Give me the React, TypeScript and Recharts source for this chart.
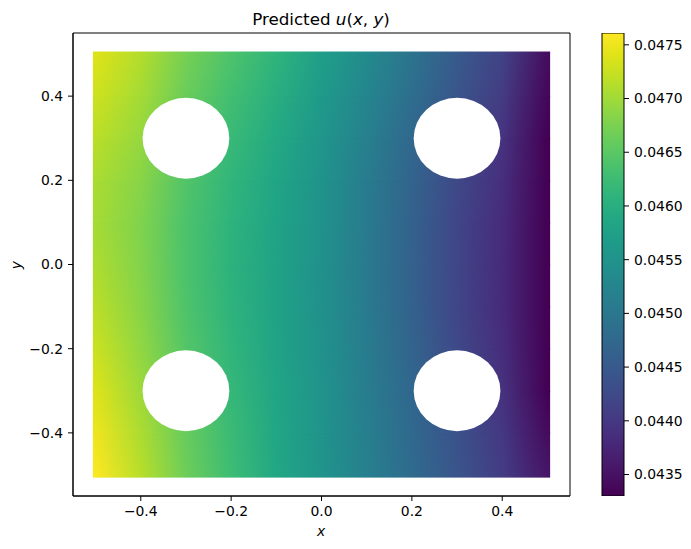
import {
  Bar,
  BarChart,
  ReferenceArea,
  Scatter,
  ScatterChart,
  XAxis,
  YAxis,
} from "recharts";

// figure geometry (pixels)
const W = 691;
const H = 549;
const PLOT = { left: 73, right: 570, top: 33, bottom: 496 };
const CBAR = { left: 602, right: 624 };
const Y_AXIS_W = 60;
const X_AXIS_H = 30;
const FONT = "'DejaVu Sans', Verdana, sans-serif";

// data
const DOMAIN: [number, number] = [-0.55, 0.55];
const FIELD_EDGE = 0.506;
const xTicks = [-0.4, -0.2, 0, 0.2, 0.4];
const yTicks = [-0.4, -0.2, 0, 0.2, 0.4];
const cbarTicks = [0.0435, 0.044, 0.0445, 0.045, 0.0455, 0.046, 0.0465, 0.047, 0.0475];
const U_MIN = 0.0433;
const U_MAX = 0.04761;

const xCols = [-0.5, -0.4, -0.3, -0.2, -0.1, 0, 0.1, 0.2, 0.3, 0.4, 0.5];
const yRows = [0.5, 0.4, 0.3, 0.2, 0.1, 0, -0.1, -0.2, -0.3, -0.4, -0.5];
// u(x, y), one row per entry of yRows, one value per entry of xCols
const uRows = [
  [0.0474, 0.04712, 0.04672, 0.0464, 0.0461, 0.04572, 0.04535, 0.04495, 0.04452, 0.04415, 0.04345],
  [0.04728, 0.04702, 0.04662, 0.0463, 0.046, 0.04563, 0.04525, 0.04485, 0.04442, 0.04405, 0.04337],
  [0.04716, 0.04693, 0.04652, 0.0462, 0.0459, 0.04555, 0.04516, 0.04475, 0.04432, 0.04395, 0.04328],
  [0.04706, 0.04684, 0.04643, 0.04612, 0.04583, 0.0455, 0.0451, 0.04468, 0.04424, 0.04388, 0.0432],
  [0.04703, 0.04679, 0.04638, 0.04608, 0.0458, 0.04547, 0.04507, 0.04465, 0.0442, 0.04384, 0.04314],
  [0.04708, 0.0468, 0.04638, 0.04607, 0.04578, 0.04546, 0.04506, 0.04464, 0.04419, 0.04382, 0.04312],
  [0.04716, 0.04684, 0.0464, 0.04608, 0.04578, 0.04546, 0.04507, 0.04465, 0.0442, 0.04383, 0.04314],
  [0.04726, 0.0469, 0.04645, 0.04612, 0.0458, 0.04547, 0.04509, 0.04468, 0.04424, 0.04387, 0.0432],
  [0.04738, 0.04698, 0.04652, 0.04617, 0.04583, 0.04549, 0.04512, 0.04472, 0.0443, 0.04393, 0.0433],
  [0.0475, 0.04707, 0.0466, 0.04622, 0.04585, 0.04551, 0.04515, 0.04476, 0.04437, 0.044, 0.04343],
  [0.0476, 0.04715, 0.04665, 0.04625, 0.04587, 0.04552, 0.04517, 0.0448, 0.04443, 0.04407, 0.04355],
];
const holes = [
  { x: -0.3, y: 0.3 },
  { x: 0.3, y: 0.3 },
  { x: -0.3, y: -0.3 },
  { x: 0.3, y: -0.3 },
];
const HOLE_R = 0.096;
const colorbar = [{ name: "u", range: [U_MIN, U_MAX] }];

const VIRIDIS = [
  "#440154", "#471365", "#482475", "#463480", "#414487", "#3b528b", "#355f8d",
  "#2f6c8e", "#2a788e", "#25848e", "#21918c", "#1e9c89", "#22a884", "#2fb47c",
  "#44bf70", "#5ec962", "#7ad151", "#9bd93c", "#bddf26", "#dfe318", "#fde725",
];

function hexRgb(h: string) {
  return [1, 3, 5].map((i) => parseInt(h.slice(i, i + 2), 16));
}

function viridis(v: number) {
  const t = Math.min(1, Math.max(0, (v - U_MIN) / (U_MAX - U_MIN)));
  const c = t * (VIRIDIS.length - 1);
  const i = Math.min(Math.floor(c), VIRIDIS.length - 2);
  const f = c - i;
  const a = hexRgb(VIRIDIS[i]);
  const b = hexRgb(VIRIDIS[i + 1]);
  const m = a.map((k, j) => Math.round(k + (b[j] - k) * f));
  return `rgb(${m[0]},${m[1]},${m[2]})`;
}

const fmt1 = (v: number) => v.toFixed(1).replace("-", "\u2212");
const fmt4 = (v: number) => v.toFixed(4);

const tickStyle = { fill: "#000", fontSize: 13.9, fontFamily: FONT };

const pxPerX = (PLOT.right - PLOT.left) / (DOMAIN[1] - DOMAIN[0]);
const pxPerY = (PLOT.bottom - PLOT.top) / (DOMAIN[1] - DOMAIN[0]);

function HoleShape(props: any) {
  return (
    <ellipse
      cx={props.cx}
      cy={props.cy}
      rx={HOLE_R * pxPerX}
      ry={HOLE_R * pxPerY}
      fill="#fff"
    />
  );
}

// band between two rows: upper row's gradient, lower row's gradient faded in downwards
function bandShape(r: number, fade: boolean) {
  return (p: any) => (
    <rect
      x={p.x}
      y={p.y}
      width={p.width}
      height={p.height}
      fill={`url(#row-${r})`}
      mask={fade ? "url(#fadeDown)" : undefined}
    />
  );
}

const bands = yRows.slice(0, -1).map((y, r) => ({
  r,
  top: r === 0 ? FIELD_EDGE : y,
  bottom: r === yRows.length - 2 ? -FIELD_EDGE : yRows[r + 1],
}));

const abs = { position: "absolute" as const, left: 0, top: 0 };

export default function App() {
  return (
    <div style={{ ...abs, width: W, height: H, background: "#fff", fontFamily: FONT }}>
      <div style={abs}>
        <ScatterChart
          width={W}
          height={H}
          margin={{
            top: PLOT.top,
            right: W - PLOT.right,
            bottom: H - PLOT.bottom - X_AXIS_H,
            left: PLOT.left - Y_AXIS_W,
          }}
        >
          <defs>
            {uRows.map((row, r) => (
              <linearGradient key={r} id={`row-${r}`} x1="0" y1="0" x2="1" y2="0">
                {row.map((u, c) => (
                  <stop
                    key={c}
                    offset={(xCols[c] + FIELD_EDGE) / (2 * FIELD_EDGE)}
                    stopColor={viridis(u)}
                  />
                ))}
              </linearGradient>
            ))}
            <linearGradient id="vfade" x1="0" y1="0" x2="0" y2="1">
              <stop offset="0" stopColor="#fff" stopOpacity={0} />
              <stop offset="1" stopColor="#fff" stopOpacity={1} />
            </linearGradient>
            <mask
              id="fadeDown"
              maskContentUnits="objectBoundingBox"
              style={{ maskType: "alpha" } as any}
            >
              <rect x="0" y="0" width="1" height="1" fill="url(#vfade)" />
            </mask>
          </defs>
          <XAxis
            type="number"
            dataKey="x"
            domain={DOMAIN}
            ticks={xTicks}
            allowDataOverflow
            height={X_AXIS_H}
            tickFormatter={fmt1}
            tick={tickStyle}
            tickSize={5}
            tickMargin={5}
            stroke="#000"
            tickLine={{ stroke: "#000" }}
          />
          <YAxis
            type="number"
            dataKey="y"
            domain={DOMAIN}
            ticks={yTicks}
            allowDataOverflow
            width={Y_AXIS_W}
            tickFormatter={fmt1}
            tick={tickStyle}
            tickSize={5}
            tickMargin={5}
            stroke="#000"
            tickLine={{ stroke: "#000" }}
          />
          {bands.map((b) => (
            <ReferenceArea
              key={`base-${b.r}`}
              x1={-FIELD_EDGE}
              x2={FIELD_EDGE}
              y1={b.r === bands.length - 1 ? b.bottom : b.bottom - 0.003}
              y2={b.top}
              shape={bandShape(b.r, false)}
              ifOverflow="visible"
            />
          ))}
          {bands.map((b) => (
            <ReferenceArea
              key={`fade-${b.r}`}
              x1={-FIELD_EDGE}
              x2={FIELD_EDGE}
              y1={b.r === bands.length - 1 ? b.bottom : b.bottom - 0.003}
              y2={b.top}
              shape={bandShape(b.r + 1, true)}
              ifOverflow="visible"
            />
          ))}
          <ReferenceArea
            x1={DOMAIN[0]}
            x2={DOMAIN[1]}
            y1={DOMAIN[0]}
            y2={DOMAIN[1]}
            fill="none"
            stroke="#000"
            strokeWidth={1}
            ifOverflow="visible"
          />
          <Scatter data={holes} shape={HoleShape} isAnimationActive={false} />
        </ScatterChart>
      </div>
      <div style={abs}>
        <BarChart
          width={W}
          height={H}
          data={colorbar}
          barCategoryGap={0}
          margin={{
            top: PLOT.top,
            right: W - CBAR.right - Y_AXIS_W,
            bottom: H - PLOT.bottom,
            left: CBAR.left,
          }}
        >
          <defs>
            <linearGradient id="cbar" x1="0" y1="1" x2="0" y2="0">
              {VIRIDIS.map((c, i) => (
                <stop key={i} offset={i / (VIRIDIS.length - 1)} stopColor={c} />
              ))}
            </linearGradient>
          </defs>
          <XAxis dataKey="name" hide />
          <YAxis
            orientation="right"
            type="number"
            domain={[U_MIN, U_MAX]}
            ticks={cbarTicks}
            allowDataOverflow
            width={Y_AXIS_W}
            tickFormatter={fmt4}
            tick={tickStyle}
            tickSize={5}
            tickMargin={5}
            axisLine={false}
            tickLine={{ stroke: "#000" }}
          />
          <Bar
            dataKey="range"
            fill="url(#cbar)"
            stroke="#000"
            strokeWidth={1}
            isAnimationActive={false}
          />
        </BarChart>
      </div>
      <div
        style={{
          position: "absolute",
          left: 221,
          width: 200,
          top: 9,
          textAlign: "center",
          fontSize: 16.7,
          lineHeight: "20px",
          whiteSpace: "nowrap",
        }}
      >
        Predicted <i>u</i>(<i>x</i>, <i>y</i>)
      </div>
      <div
        style={{
          position: "absolute",
          left: 271,
          width: 100,
          top: 523,
          textAlign: "center",
          fontSize: 13.9,
          lineHeight: "16px",
          fontStyle: "italic",
        }}
      >
        x
      </div>
      <div
        style={{
          position: "absolute",
          left: -34,
          width: 100,
          top: 257,
          textAlign: "center",
          fontSize: 13.9,
          lineHeight: "16px",
          fontStyle: "italic",
          transform: "rotate(-90deg)",
        }}
      >
        y
      </div>
    </div>
  );
}
